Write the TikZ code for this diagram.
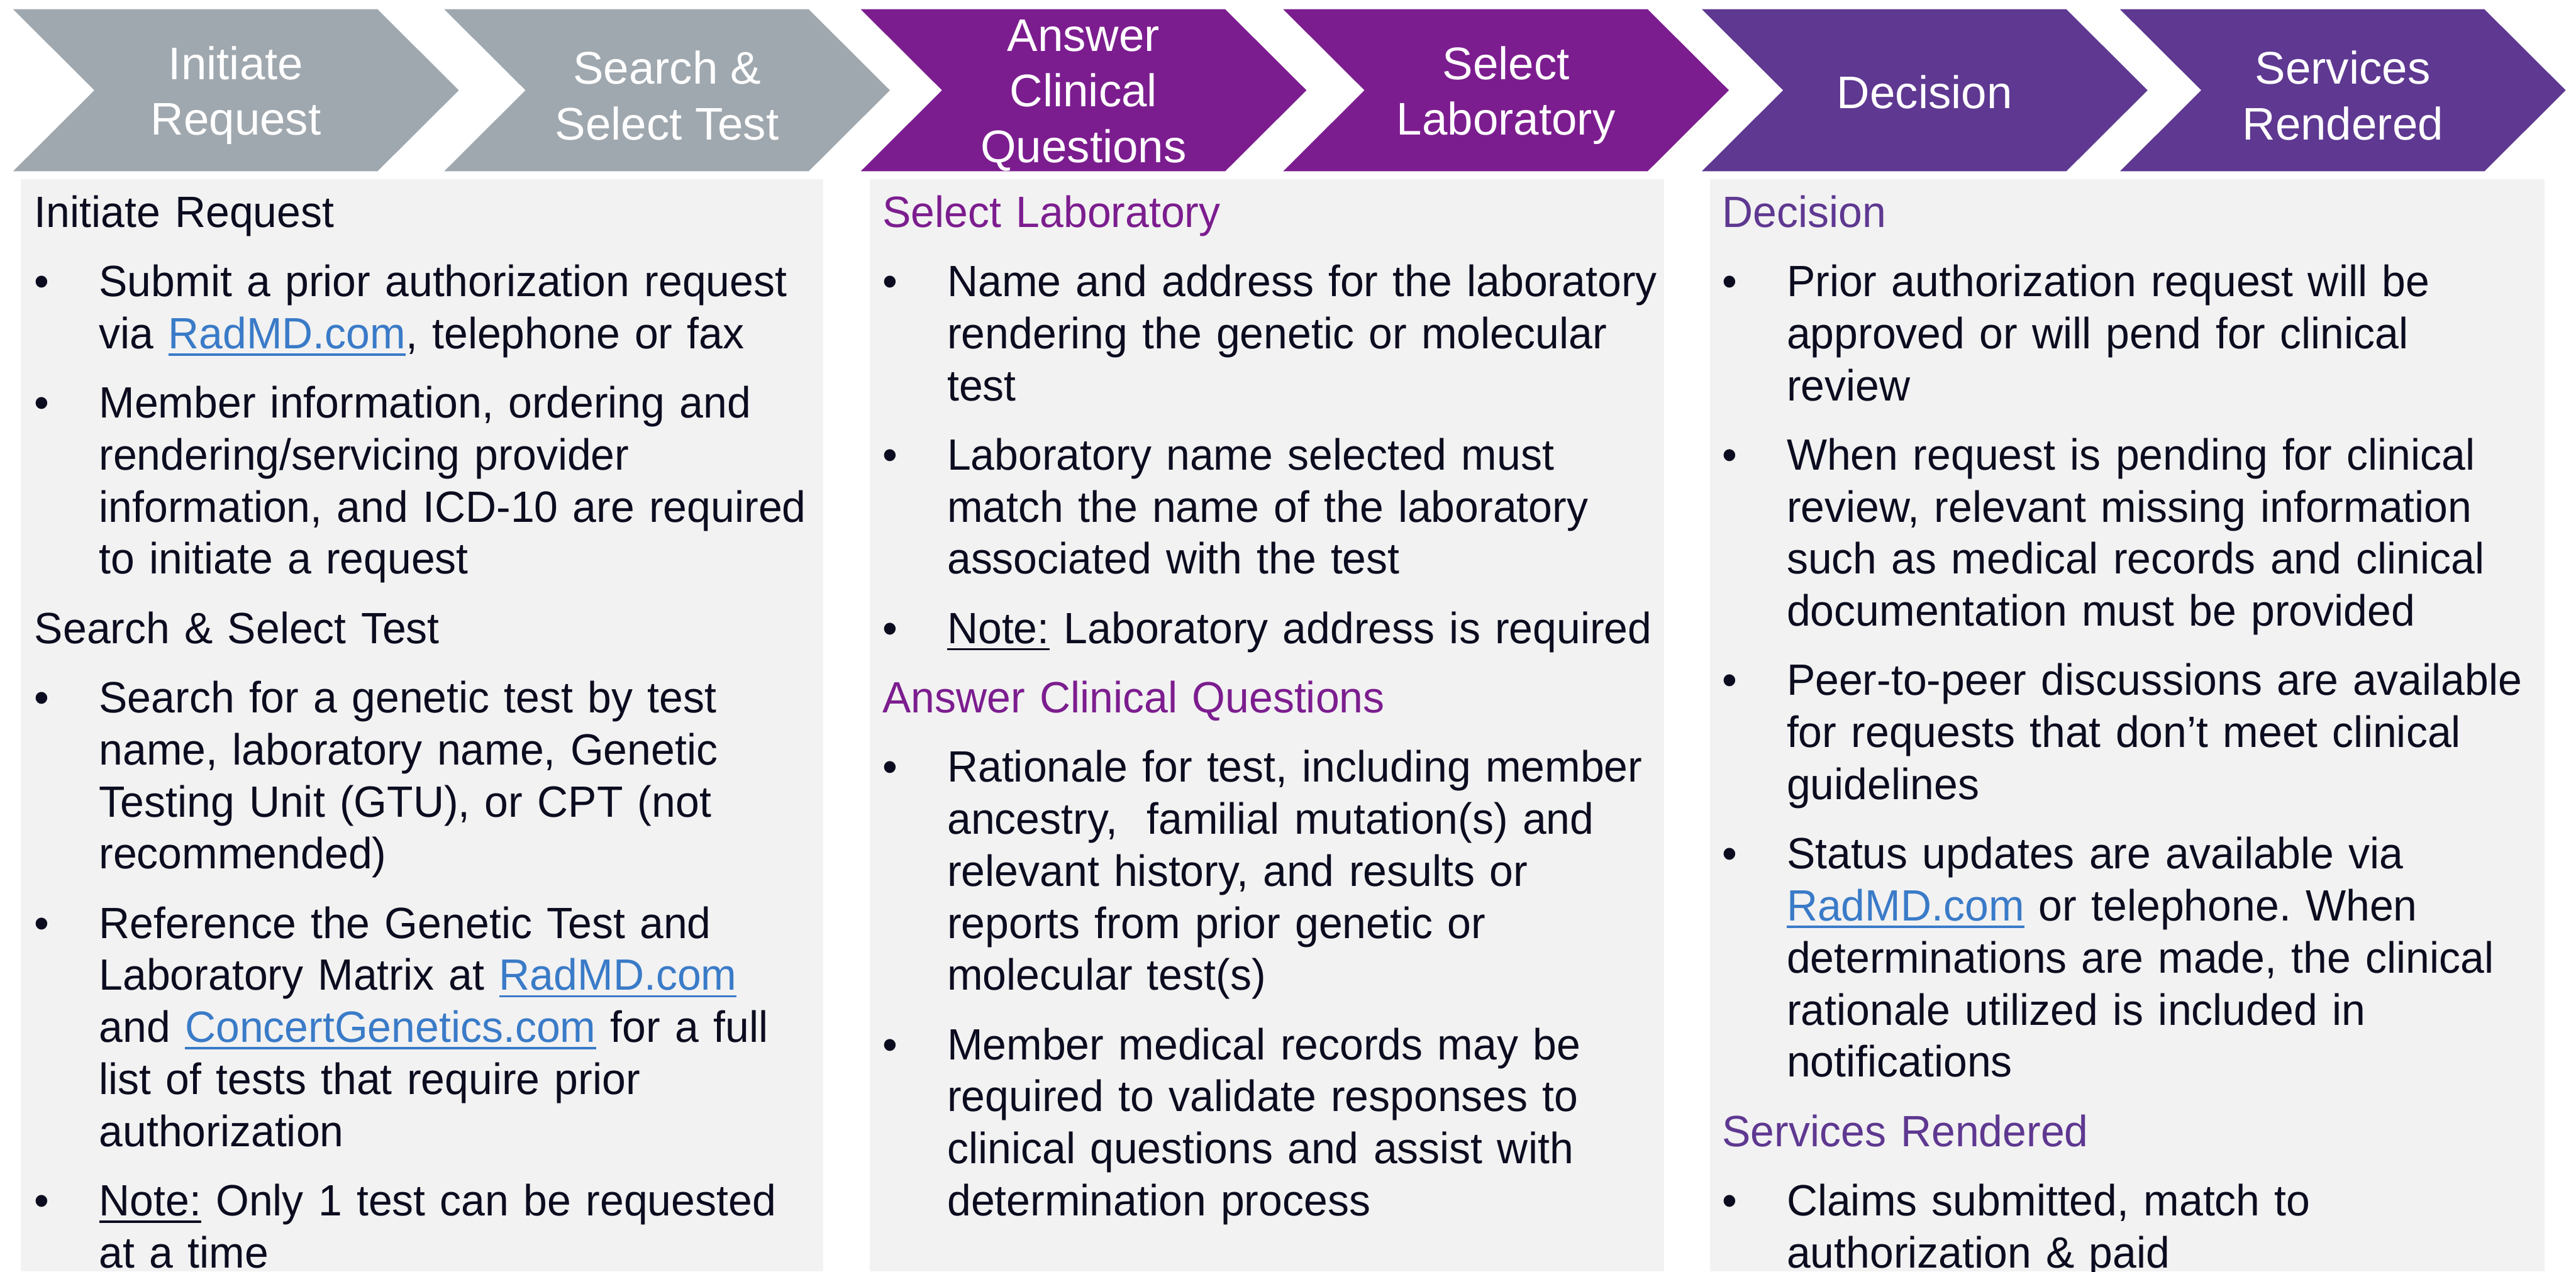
\documentclass[tikz,border=0pt]{standalone}
\usepackage{fontspec}
\setmainfont[FakeStretch=0.975]{Liberation Sans}
\newfontfamily\stepfont{Liberation Sans}

\definecolor{stepgray}{RGB}{160,168,175}
\definecolor{clinpurple}{RGB}{124,29,143}
\definecolor{decviolet}{RGB}{94,56,145}
\definecolor{panelgray}{RGB}{242,242,242}
\definecolor{bodyink}{RGB}{12,12,32}
\definecolor{linkblue}{RGB}{58,123,200}

\newlength\bulletindent
\setlength\bulletindent{1.19cm}

% paragraph set-up, heading line and bullet item inside a panel
\newcommand\panelsetup{\setlength\parskip{0.32cm}\frenchspacing\hyphenpenalty=10000\relax}
\newcommand\stephead[2]{\noindent\textcolor{#1}{#2}\par}
\newcommand\stepitem[1]{\hangindent=\bulletindent\hangafter=1\noindent\hbox to\bulletindent{\textbullet\hfil}#1\par}
% underlined words
\newcommand\weblink[1]{\setbox0\hbox{{\color{linkblue}#1}}\rlap{{\color{linkblue}\rule[-0.13cm]{\wd0}{0.04cm}}}\box0\relax}
\newcommand\noteword{\setbox0\hbox{Note:}\rlap{\rule[-0.13cm]{\wd0}{0.04cm}}\box0\relax}

\tikzset{
  steptext/.style={text=white, align=center, inner sep=0pt,
    font=\stepfont\fontsize{24pt}{29.3pt}\selectfont},
  panel/.style={fill=panelgray},
  paneltext/.style={anchor=base west, inner sep=0pt, text width=15.6cm,
    align=left, text=bodyink, font=\fontsize{23pt}{27.3pt}\selectfont},
}

\begin{document}
\begin{tikzpicture}
    \useasboundingbox (0,0) rectangle (47.5,-23.45);

    % 1. the six chevrons of the process
    \foreach \x/\y/\col/\name/\txt in {
        0.24/1.76/stepgray/init/{Initiate\\Request},
        8.19/1.76/stepgray/search/{Search \&\\Select Test},
        15.87/1.76/clinpurple/answer/{Answer\\Clinical\\Questions},
        23.66/1.76/clinpurple/lab/{Select\\Laboratory},
        31.38/1.70/decviolet/decision/{Decision},
        39.09/1.76/decviolet/services/{Services\\Rendered}} {
      \fill[\col] (\x,-0.17) -- ++(6.72,0) -- ++(1.5,-1.495) -- ++(-1.5,-1.495)
          -- ++(-6.72,0) -- ++(1.5,1.495) -- cycle;
      \node[steptext] (\name) at (\x+4.11,-\y) {\txt};
    }

    % 2. the three grey panels
    \fill[panel] (0.38,-3.31) rectangle (15.18,-23.45);
    \fill[panel] (16.04,-3.31) rectangle (30.68,-23.45);
    \fill[panel] (31.53,-3.31) rectangle (46.92,-23.45);

    % 3. panel texts
    \node[paneltext] (leftcol) at (0.63,-4.19) {\panelsetup
      \stephead{bodyink}{Initiate Request}
      \stepitem{Submit a prior authorization request\newline via \weblink{RadMD.com}, telephone or fax}
      \stepitem{Member information, ordering and\newline rendering/servicing provider\newline information, and ICD-10 are required\newline to initiate a request}
      \stephead{bodyink}{Search \& Select Test}
      \stepitem{Search for a genetic test by test\newline name, laboratory name, Genetic\newline Testing Unit (GTU), or CPT (not\newline recommended)}
      \stepitem{Reference the Genetic Test and\newline Laboratory Matrix at \weblink{RadMD.com}\newline and \weblink{ConcertGenetics.com} for a full\newline list of tests that require prior\newline authorization}
      \stepitem{\noteword{} Only 1 test can be requested\newline at a time}};

    \node[paneltext] (midcol) at (16.27,-4.19) {\panelsetup
      \stephead{clinpurple}{Select Laboratory}
      \stepitem{Name and address for the laboratory\newline rendering the genetic or molecular\newline test}
      \stepitem{Laboratory name selected must\newline match the name of the laboratory\newline associated with the test}
      \stepitem{\noteword{} Laboratory address is required}
      \stephead{clinpurple}{Answer Clinical Questions}
      \stepitem{Rationale for test, including member\newline ancestry, \ familial mutation(s) and\newline relevant history, and results or\newline reports from prior genetic or\newline molecular test(s)}
      \stepitem{Member medical records may be\newline required to validate responses to\newline clinical questions and assist with\newline determination process}};

    \node[paneltext] (rightcol) at (31.75,-4.19) {\panelsetup
      \stephead{decviolet}{Decision}
      \stepitem{Prior authorization request will be\newline approved or will pend for clinical\newline review}
      \stepitem{When request is pending for clinical\newline review, relevant missing information\newline such as medical records and clinical\newline documentation must be provided}
      \stepitem{Peer-to-peer discussions are available\newline for requests that don’t meet clinical\newline guidelines}
      \stepitem{Status updates are available via\newline \weblink{RadMD.com} or telephone. When\newline determinations are made, the clinical\newline rationale utilized is included in\newline notifications}
      \stephead{decviolet}{Services Rendered}
      \stepitem{Claims submitted, match to\newline authorization \& paid}};

\end{tikzpicture}
\end{document}
